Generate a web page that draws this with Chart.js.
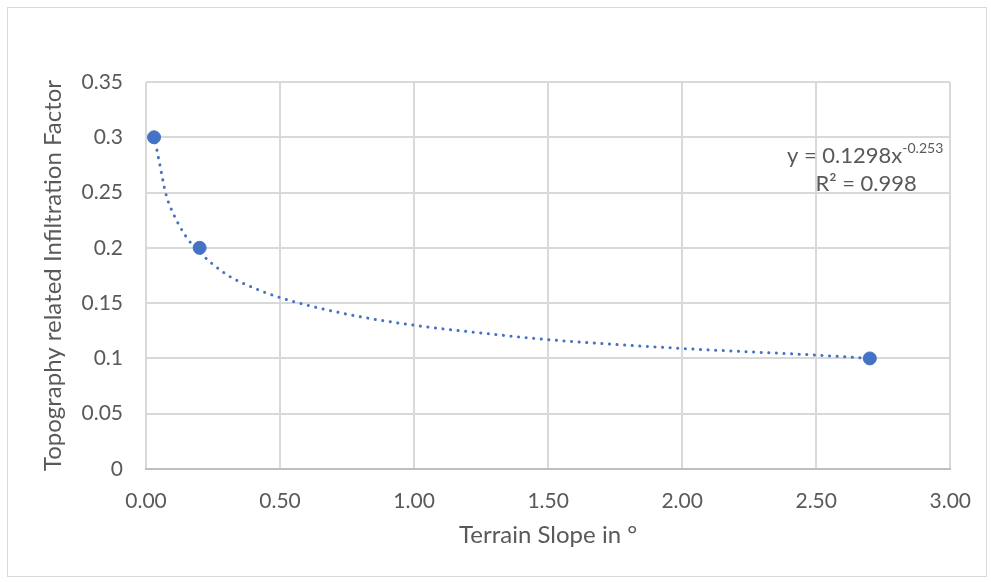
<!DOCTYPE html>
<html>
<head>
<meta charset="utf-8">
<script src="https://cdn.jsdelivr.net/npm/chart.js@4.4.1/dist/chart.umd.min.js"></script>
<style>
  html, body { margin: 0; padding: 0; background: #fff; }
  #frame { position: absolute; left: 7px; top: 7px; width: 980px; height: 570px; border: 1px solid #d9d9d9; box-sizing: border-box; }
  #wrap { position: absolute; left: 0; top: 0; width: 991px; height: 582px; }
</style>
</head>
<body>
<div id="frame"></div>
<div id="wrap"><canvas id="chartCanvas" width="991" height="582"></canvas></div>
<script>
// measured points
const slopeX = [0.03, 0.2, 2.7];
const factorY = [0.3, 0.2, 0.1];

// power trendline, values
const trendX = [0.03, 0.05, 0.075, 0.1, 0.15, 0.2, 0.3, 0.4, 0.5, 0.75, 1.0, 1.25, 1.5, 2.0, 2.5, 2.7];
const trendY = [0.302, 0.277, 0.248, 0.232, 0.21, 0.196, 0.176, 0.164, 0.155, 0.14, 0.13, 0.123, 0.117, 0.109, 0.103, 0.1];

const eqText = "y = 0.1298x";
const eqExp = "-0.253";
const r2Text = "R\u00b2 = 0.998";

const textColor = "#595959";
const gridColor = "#d9d9d9";
const blue = "#4472c4";
const fontFamily = "Lato, 'Open Sans', sans-serif";

const points = slopeX.map((x, i) => ({ x: x, y: factorY[i] }));
const trend = trendX.map((x, i) => ({ x: x, y: trendY[i] }));

// trendline equation label, placed near the top right of the plot
const equationLabel = {
  id: "equationLabel",
  afterDraw(chart) {
    const c = chart.ctx;
    const area = chart.chartArea;
    const right = area.right - 7;
    const base = area.top + 81;
    c.save();
    c.fillStyle = textColor;
    c.textBaseline = "alphabetic";
    c.font = "14px " + fontFamily;
    const expW = c.measureText(eqExp).width;
    c.textAlign = "right";
    c.fillText(eqExp, right, base - 10);
    c.font = "22px " + fontFamily;
    c.fillText(eqText, right - expW, base);
    const mainW = c.measureText(eqText).width;
    const mid = right - (mainW + expW) / 2;
    c.textAlign = "center";
    c.fillText(r2Text, mid + 1, base + 28);
    c.restore();
  }
};

const ctxChart = document.getElementById("chartCanvas").getContext("2d");

const chart = new Chart(ctxChart, {
  type: "scatter",
  data: {
    datasets: [
      {
        label: "Trend",
        data: trend,
        showLine: true,
        borderColor: blue,
        borderWidth: 3,
        borderDash: [0.1, 7.5],
        borderCapStyle: "round",
        cubicInterpolationMode: "monotone",
        pointRadius: 0,
        order: 2,
      },
      {
        label: "Factor",
        data: points,
        backgroundColor: blue,
        borderColor: blue,
        pointRadius: 6.5,
        order: 1,
      },
    ],
  },
  options: {
    responsive: false,
    animation: false,
    layout: { padding: { left: 0, right: 39, top: 82, bottom: 0 } },
    plugins: {
      legend: { display: false },
      tooltip: { enabled: false },
    },
    scales: {
      x: {
        type: "linear",
        min: 0,
        max: 3,
        ticks: {
          stepSize: 0.5,
          color: textColor,
          font: { family: fontFamily, size: 21 },
          padding: 20,
          callback: (v) => v.toFixed(2),
        },
        grid: { color: gridColor, lineWidth: 2, drawTicks: false },
        border: { color: "#bfbfbf", width: 2 },
        title: {
          display: true,
          text: "Terrain Slope in \u00b0",
          color: textColor,
          font: { family: fontFamily, size: 24 },
          padding: { top: 32, bottom: 32 },
        },
        afterFit(scale) { scale.height = 113; },
      },
      y: {
        min: 0,
        max: 0.35,
        ticks: {
          stepSize: 0.05,
          color: textColor,
          font: { family: fontFamily, size: 21 },
          padding: 23,
          callback: (v) => String(Math.round(v * 100) / 100),
        },
        grid: { color: gridColor, lineWidth: 2, drawTicks: false },
        border: { display: false },
        title: {
          display: true,
          text: "Topography related Infiltration Factor",
          color: textColor,
          font: { family: fontFamily, size: 24 },
          padding: { top: 39, bottom: 39 },
        },
        afterFit(scale) { scale.width = 146; },
      },
    },
  },
  plugins: [equationLabel],
});
</script>
</body>
</html>
